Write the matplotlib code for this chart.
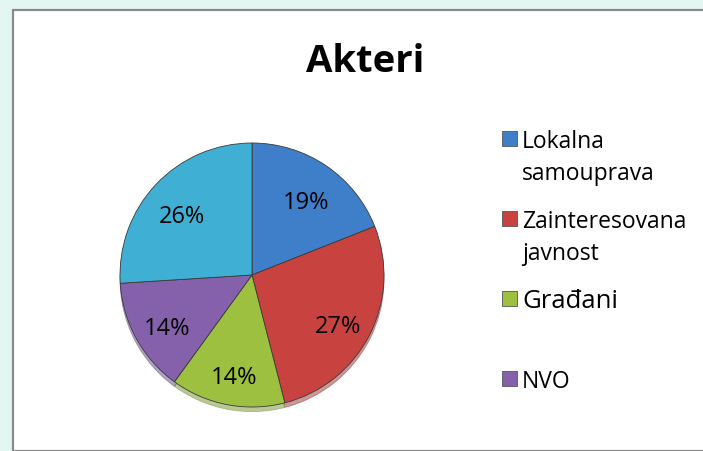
import matplotlib
matplotlib.use("Agg")
import matplotlib.pyplot as plt
import matplotlib.transforms as mtransforms
from matplotlib.patches import Rectangle

# podaci
categories = ["Lokalna samouprava", "Zainteresovana javnost", "Građani", "NVO", ""]
legend_labels = ["Lokalna\nsamouprava", "Zainteresovana\njavnost", "Građani", "NVO"]
values = [19, 27, 14, 14, 26]
colors = ["#3f7ec9", "#c8423f", "#9dc040", "#8461aa", "#3fb0d3"]

plt.rcParams["font.family"] = ["Open Sans", "DejaVu Sans"]

W, H = 703, 451
fig = plt.figure(figsize=(W / 100, H / 100), dpi=100)
fig.patch.set_facecolor("#e4f6f2")

# okvir grafikona
frame = Rectangle((13 / W, 0), 1, 1 - 10 / H, transform=fig.transFigure,
                  facecolor="white", edgecolor="#8a8a8a", lw=1.6, zorder=-5)
fig.patches.append(frame)

fig.text(365 / W, 1 - 62 / H, "Akteri", ha="center", va="center",
         fontsize=27.5, fontweight="bold", zorder=5)

# pita
cx, cy, r = 252, 275, 132
ax = fig.add_axes([(cx - r) / W, (H - cy - r) / H, 2 * r / W, 2 * r / H])
ax.set_zorder(2)
ax.patch.set_alpha(0)
wedges, texts, autotexts = ax.pie(
    values, colors=colors, startangle=90, counterclock=False,
    autopct="%d%%", pctdistance=0.73, radius=1.0,
    wedgeprops=dict(edgecolor="#3a3a3a", linewidth=0.6),
    textprops=dict(fontsize=17, color="black"),
    shadow=dict(ox=0.0, oy=-0.025, shade=0.25),
)
# oznake malo niže, kao u originalu
for t in autotexts:
    t.set_va("center_baseline")
    t.set_transform(mtransforms.offset_copy(t.get_transform(), fig=fig,
                                            y=-5, units="dots"))
ax.set_xlim(-1.0, 1.0)
ax.set_ylim(-1.0, 1.0)
ax.set_aspect("equal")
ax.axis("off")

# legenda
sizes = [16.5, 16.5, 18.5, 16.5]
for i, (lab, col, fs) in enumerate(zip(legend_labels, colors, sizes)):
    yc = 139 + 80 * i
    fig.patches.append(Rectangle((502 / W, 1 - (yc + 7) / H), 15 / W, 15 / H,
                                 transform=fig.transFigure, facecolor=col,
                                 edgecolor="#555555", lw=0.6, zorder=3))
    for k, line in enumerate(lab.split("\n")):
        fig.text(522 / W, 1 - (yc + 32 * k) / H, line, ha="left",
                 va="center_baseline", fontsize=fs, zorder=5)

plt.savefig("out.png", dpi=100, facecolor=fig.get_facecolor())
